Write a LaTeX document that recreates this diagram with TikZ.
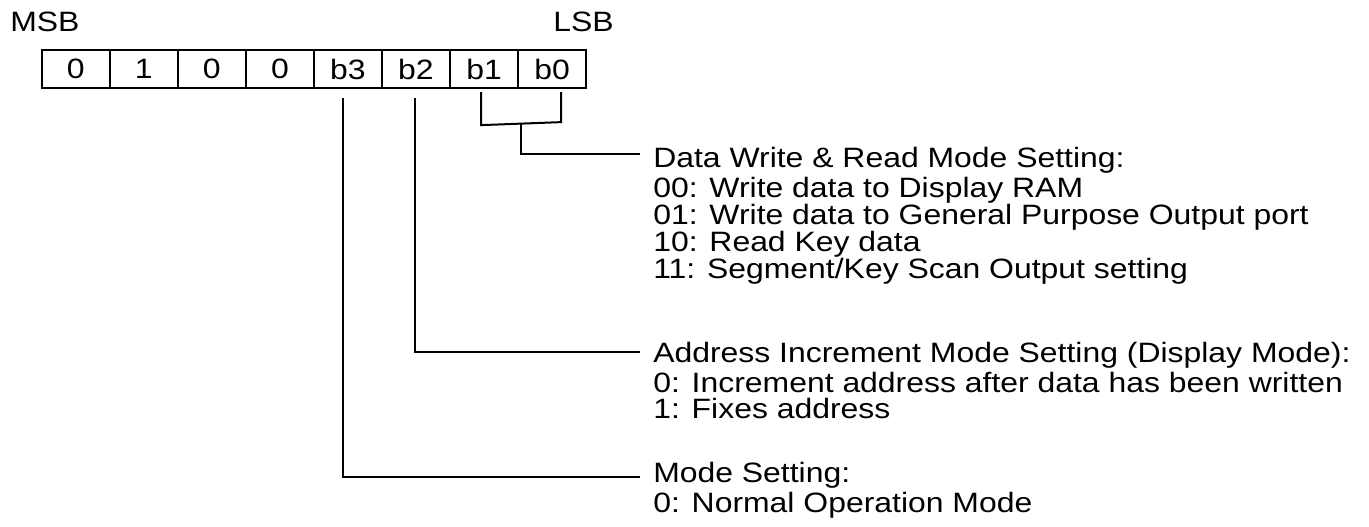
\documentclass[tikz,border=0pt]{standalone}
\usepackage{fontspec}
\setmainfont{Liberation Sans}[FakeStretch=1.14]
\usetikzlibrary{positioning,calc}

\begin{document}
\begin{tikzpicture}[x=0.75pt,y=-0.75pt,
    font=\fontsize{21}{25}\selectfont,
    bitcell/.style={draw, line width=1.6pt, minimum width=51.03pt, minimum height=28.5pt, inner sep=0pt, anchor=north west},
    wire/.style={line width=1.5pt},
    desc/.style={anchor=base west, inner sep=0pt}]
    \useasboundingbox (0,0) rectangle (1369,527);

    % Register bits
    \foreach \b [count=\i from 0] in {0,1,0,0,b3,b2,b1,b0} {
        \pgfmathtruncatemacro\n{7-\i}
        \node[bitcell] (bit\n) at ({40.7+\i*68.04},49) {\b};
    }

    % MSB / LSB
    \node[desc] (msb) at (10,32) {MSB};
    \node[desc] (lsb) at (553,32) {LSB};

    % Ends of the connectors
    \coordinate (dataend) at (640,154);
    \coordinate (addrend) at (640,352);
    \coordinate (modeend) at (640,477);

    % b1 b0 bracket
    \draw[wire] ([xshift=-2.25pt,yshift=-2.25pt]bit1.south) -- ++(0,33) coordinate (bracketl)
        -- ([xshift=6.75pt,yshift=-24.75pt]bit0.south) coordinate (bracketr)
        -- ([xshift=6.75pt,yshift=-2.25pt]bit0.south);
    \coordinate (join) at ($(bracketl)!0.5!(bracketr)$);
    \draw[wire] (join) |- (dataend);

    % b2 and b3
    \draw[wire] ([xshift=-1pt,yshift=-7pt]bit2.south) |- (addrend);
    \draw[wire] ([xshift=-3.75pt,yshift=-7pt]bit3.south) |- (modeend);

    % Data write & read
    \node[desc] (datahead) at (653,168) {Data Write \& Read Mode Setting:};
    \foreach \t [count=\k from 0] in {00: Write data to Display RAM,
        01: Write data to General Purpose Output port,
        10: Read Key data,
        11: Segment/Key Scan Output setting}
        \node[desc] (data\k) at (653,{198+\k*26.7}) {\t};

    % Address increment
    \node[desc] (addrhead) at (653,362) {Address Increment Mode Setting (Display Mode):};
    \node[desc] (addr0) at (653,392) {0: Increment address after data has been written};
    \node[desc] (addr1) at (653,418.7) {1: Fixes address};

    % Mode setting
    \node[desc] (modehead) at (653,482) {Mode Setting:};
    \node[desc] (mode0) at (653,512) {0: Normal Operation Mode};
\end{tikzpicture}
\end{document}
